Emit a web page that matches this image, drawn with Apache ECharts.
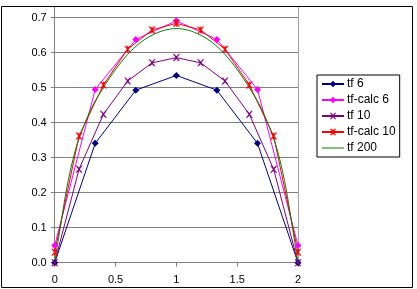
<!DOCTYPE html>
<html>
<head>
<meta charset="utf-8">
<script src="https://cdn.jsdelivr.net/npm/echarts@6/dist/echarts.min.js"></script>
<style>
  html, body { margin: 0; padding: 0; background: #ffffff; }
  #chart { width: 417px; height: 289px; }
</style>
</head>
<body>
<div id="chart"></div>
<script>
  // x positions of each data set
  var xSix = [0, 0.333, 0.667, 1, 1.333, 1.667, 2];
  var xTen = [0, 0.2, 0.4, 0.6, 0.8, 1, 1.2, 1.4, 1.6, 1.8, 2];
  var xFine = [0, 0.05, 0.1, 0.15, 0.2, 0.3, 0.4, 0.5, 0.6, 0.7, 0.8, 0.9, 1,
               1.1, 1.2, 1.3, 1.4, 1.5, 1.6, 1.7, 1.8, 1.85, 1.9, 1.95, 2];

  // series values
  var tf6 = [0, 0.341, 0.493, 0.535, 0.493, 0.341, 0];
  var tfCalc6 = [0.049, 0.495, 0.638, 0.691, 0.638, 0.495, 0.049];
  var tf10 = [0, 0.267, 0.424, 0.519, 0.571, 0.586, 0.571, 0.519, 0.424, 0.267, 0];
  var tfCalc10 = [0.03, 0.362, 0.508, 0.61, 0.665, 0.684, 0.665, 0.61, 0.508, 0.362, 0.03];
  var tf200 = [0, 0.11, 0.215, 0.295, 0.355, 0.44, 0.5, 0.552, 0.595, 0.628, 0.65, 0.664, 0.669,
               0.664, 0.65, 0.628, 0.595, 0.552, 0.5, 0.44, 0.355, 0.295, 0.215, 0.11, 0];

  var seriesNames = ['tf 6', 'tf-calc 6', 'tf 10', 'tf-calc 10', 'tf 200'];
  var xTicks = [0, 0.5, 1, 1.5, 2];

  var crossPath = 'path://M0,0 L2,0 L5,3 L8,0 L10,0 L6,5 L10,10 L8,10 L5,7 L2,10 L0,10 L4,5 Z';
  var starPath = 'path://M0,0 L2,0 L5,3 L8,0 L10,0 L6,5 L10,10 L8,10 L5,7 L2,10 L0,10 L4,5 Z M4.3,0 L5.7,0 L5.7,10 L4.3,10 Z';
  var plainLine = 'path://M0,0 L22,0 L22,1 L0,1 Z';

  function pairs(xs, ys) {
    return xs.map(function (x, i) { return [x, ys[i]]; });
  }

  var chart = echarts.init(document.getElementById('chart'));
  var font = 'Liberation Sans, Arial, sans-serif';

  var option = {
    animation: false,
    backgroundColor: '#ffffff',
    textStyle: { fontFamily: font },
    grid: { left: 54.7, right: 119, top: 17.7, bottom: 26.3 },
    xAxis: {
      type: 'value',
      min: 0,
      max: 2,
      interval: 0.5,
      axisLine: { show: true, lineStyle: { color: '#808080', width: 1 } },
      axisTick: { show: true, length: 4, lineStyle: { color: '#808080' } },
      axisLabel: {
        color: '#000', fontSize: 11, fontFamily: font, margin: 12,
        formatter: function (v) { return xTicks.indexOf(v) >= 0 ? String(v) : ''; }
      },
      splitLine: { show: false }
    },
    yAxis: {
      type: 'value',
      min: 0,
      max: 0.7,
      interval: 0.1,
      axisLine: { show: false },
      axisTick: { show: true, length: 4, lineStyle: { color: '#808080' } },
      axisLabel: {
        color: '#000', fontSize: 11, fontFamily: font, margin: 8,
        formatter: function (v) { return v.toFixed(1); }
      },
      splitLine: { show: true, lineStyle: { color: '#808080', width: 1 } }
    },
    legend: {
      orient: 'vertical',
      left: 317,
      top: 75,
      width: 70,
      padding: [3, 4, 3, 4],
      itemGap: 4,
      itemWidth: 22,
      itemHeight: 8,
      borderColor: '#000',
      borderWidth: 1,
      textStyle: { color: '#000', fontSize: 12, fontFamily: font, padding: [0, 0, 0, -2] },
      data: [
        seriesNames[0], seriesNames[1], seriesNames[2], seriesNames[3],
        { name: seriesNames[4], icon: plainLine }
      ]
    },
    graphic: [
      {
        type: 'rect', silent: true, z: 100,
        shape: { x: 1.5, y: 6.5, width: 411, height: 281 },
        style: { fill: null, stroke: '#000', lineWidth: 1 }
      },
      {
        type: 'line', silent: true,
        shape: { x1: 54.5, y1: 6.5, x2: 54.5, y2: 263 },
        style: { stroke: '#808080', lineWidth: 1 }
      },
      {
        type: 'line', silent: true,
        shape: { x1: 298.5, y1: 6.5, x2: 298.5, y2: 263 },
        style: { stroke: '#a0a0a0', lineWidth: 1 }
      }
    ],
    series: [
      {
        name: seriesNames[0], type: 'line', data: pairs(xSix, tf6),
        symbol: 'diamond', symbolSize: 7, showAllSymbol: true,
        lineStyle: { color: '#000080', width: 1 },
        itemStyle: { color: '#000080' }
      },
      {
        name: seriesNames[1], type: 'line', data: pairs(xSix, tfCalc6),
        symbol: 'diamond', symbolSize: 7, showAllSymbol: true,
        lineStyle: { color: '#ff00ff', width: 1 },
        itemStyle: { color: '#ff00ff' }
      },
      {
        name: seriesNames[2], type: 'line', data: pairs(xTen, tf10),
        symbol: crossPath, symbolSize: 7, showAllSymbol: true,
        lineStyle: { color: '#800080', width: 1 },
        itemStyle: { color: '#800080' }
      },
      {
        name: seriesNames[3], type: 'line', data: pairs(xTen, tfCalc10),
        symbol: starPath, symbolSize: 7, showAllSymbol: true,
        lineStyle: { color: '#ff0000', width: 1 },
        itemStyle: { color: '#ff0000' }
      },
      {
        name: seriesNames[4], type: 'line', data: pairs(xFine, tf200),
        symbol: 'none', smooth: 0.3,
        lineStyle: { color: '#008000', width: 1 },
        itemStyle: { color: '#008000' }
      }
    ]
  };

  chart.setOption(option);
</script>
</body>
</html>
